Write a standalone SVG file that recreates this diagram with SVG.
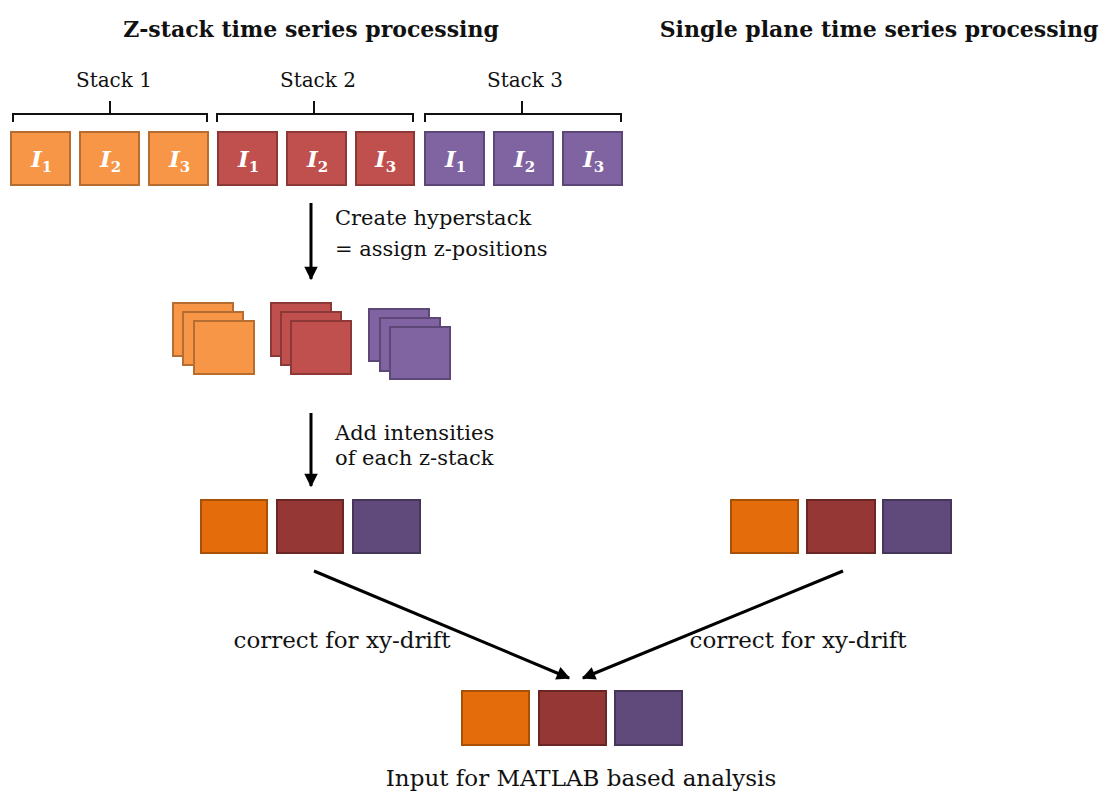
<svg xmlns="http://www.w3.org/2000/svg" width="1105" height="794" viewBox="0 0 1105 794">
<defs>
<style>
text{font-family:"DejaVu Serif","Liberation Serif",serif;fill:#111}
.title{font-weight:bold;font-size:22px}
.lbl{font-size:20px}
.mid{font-size:21px}
.big{font-size:23px}
.o{fill:#F79646;stroke:#B66D31;stroke-width:2}
.r{fill:#C0504D;stroke:#8C3836;stroke-width:2}
.p{fill:#8064A2;stroke:#5C4776;stroke-width:2}
.do{fill:#E46C0A;stroke:#A65008;stroke-width:2}
.dr{fill:#953735;stroke:#6A2625;stroke-width:2}
.dp{fill:#604A7B;stroke:#46365A;stroke-width:2}
.it{font-family:"DejaVu Serif","Liberation Serif",serif;font-weight:bold;font-style:italic;fill:#fff;font-size:23px}
.sub{font-size:15px;font-style:normal}
.brace{fill:none;stroke:#111;stroke-width:2}
.conn{stroke:#000;stroke-width:3;fill:none}
</style>
<marker id="ah" viewBox="0 0 10 10" refX="9" refY="5" markerWidth="5" markerHeight="4.5" orient="auto" markerUnits="strokeWidth">
<path d="M0,0 L10,5 L0,10 z" fill="#000"/>
</marker>
</defs>
<rect width="1105" height="794" fill="#fff"/>

<g id="titles">
<text class="title" x="311" y="37" text-anchor="middle">Z-stack time series processing</text>
<text class="title" x="879" y="37" text-anchor="middle">Single plane time series processing</text>
</g>

<g id="stack1">
<text class="lbl" x="114" y="87" text-anchor="middle">Stack 1</text>
<path class="brace" d="M13,122 V114 H207 V122 M110,114 V101"/>
<rect class="o" x="11" y="132" width="59" height="53"/>
<text class="it" x="31" y="167">I<tspan class="sub" dy="5">1</tspan></text>
<rect class="o" x="80" y="132" width="59" height="53"/>
<text class="it" x="100" y="167">I<tspan class="sub" dy="5">2</tspan></text>
<rect class="o" x="149" y="132" width="59" height="53"/>
<text class="it" x="169" y="167">I<tspan class="sub" dy="5">3</tspan></text>
</g>

<g id="stack2">
<text class="lbl" x="318" y="87" text-anchor="middle">Stack 2</text>
<path class="brace" d="M217,122 V114 H413 V122 M314,114 V101"/>
<rect class="r" x="218" y="132" width="59" height="53"/>
<text class="it" x="238" y="167">I<tspan class="sub" dy="5">1</tspan></text>
<rect class="r" x="287" y="132" width="59" height="53"/>
<text class="it" x="307" y="167">I<tspan class="sub" dy="5">2</tspan></text>
<rect class="r" x="356" y="132" width="58" height="53"/>
<text class="it" x="375" y="167">I<tspan class="sub" dy="5">3</tspan></text>
</g>

<g id="stack3">
<text class="lbl" x="525" y="87" text-anchor="middle">Stack 3</text>
<path class="brace" d="M425,122 V114 H621 V122 M522,114 V101"/>
<rect class="p" x="425" y="132" width="59" height="53"/>
<text class="it" x="445" y="167">I<tspan class="sub" dy="5">1</tspan></text>
<rect class="p" x="494" y="132" width="59" height="53"/>
<text class="it" x="514" y="167">I<tspan class="sub" dy="5">2</tspan></text>
<rect class="p" x="563" y="132" width="59" height="53"/>
<text class="it" x="583" y="167">I<tspan class="sub" dy="5">3</tspan></text>
</g>

<g id="hyperstacks">
<rect class="o" x="173" y="303" width="60" height="53"/>
<rect class="o" x="183" y="312" width="60" height="53"/>
<rect class="o" x="194" y="321" width="60" height="53"/>
<rect class="r" x="271" y="303" width="60" height="53"/>
<rect class="r" x="281" y="312" width="60" height="53"/>
<rect class="r" x="291" y="321" width="60" height="53"/>
<rect class="p" x="369" y="309" width="60" height="52"/>
<rect class="p" x="380" y="318" width="60" height="53"/>
<rect class="p" x="390" y="327" width="60" height="52"/>
</g>

<g id="summed-left">
<rect class="do" x="201" y="500" width="66" height="53"/>
<rect class="dr" x="277" y="500" width="66" height="53"/>
<rect class="dp" x="353" y="500" width="67" height="53"/>
</g>

<g id="single-plane">
<rect class="do" x="731" y="500" width="67" height="53"/>
<rect class="dr" x="807" y="500" width="68" height="53"/>
<rect class="dp" x="883" y="500" width="68" height="53"/>
</g>

<g id="output">
<rect class="do" x="462" y="691" width="67" height="54"/>
<rect class="dr" x="539" y="691" width="67" height="54"/>
<rect class="dp" x="615" y="691" width="67" height="54"/>
<text class="big" x="581" y="786" text-anchor="middle">Input for MATLAB based analysis</text>
</g>

<g id="connectors">
<line class="conn" x1="311" y1="203" x2="311" y2="279" marker-end="url(#ah)"/>
<line class="conn" x1="311" y1="413" x2="311" y2="486" marker-end="url(#ah)"/>
<line class="conn" x1="314" y1="571" x2="569" y2="678" marker-end="url(#ah)"/>
<line class="conn" x1="843" y1="571" x2="583" y2="678" marker-end="url(#ah)"/>
</g>

<g id="labels">
<text class="mid" x="335" y="225">Create hyperstack</text>
<text class="mid" x="335" y="256">= assign z-positions</text>
<text class="mid" x="335" y="440">Add intensities</text>
<text class="mid" x="335" y="465">of each z-stack</text>
<text class="big" x="342" y="648" text-anchor="middle">correct for xy-drift</text>
<text class="big" x="798" y="648" text-anchor="middle">correct for xy-drift</text>
</g>
</svg>
